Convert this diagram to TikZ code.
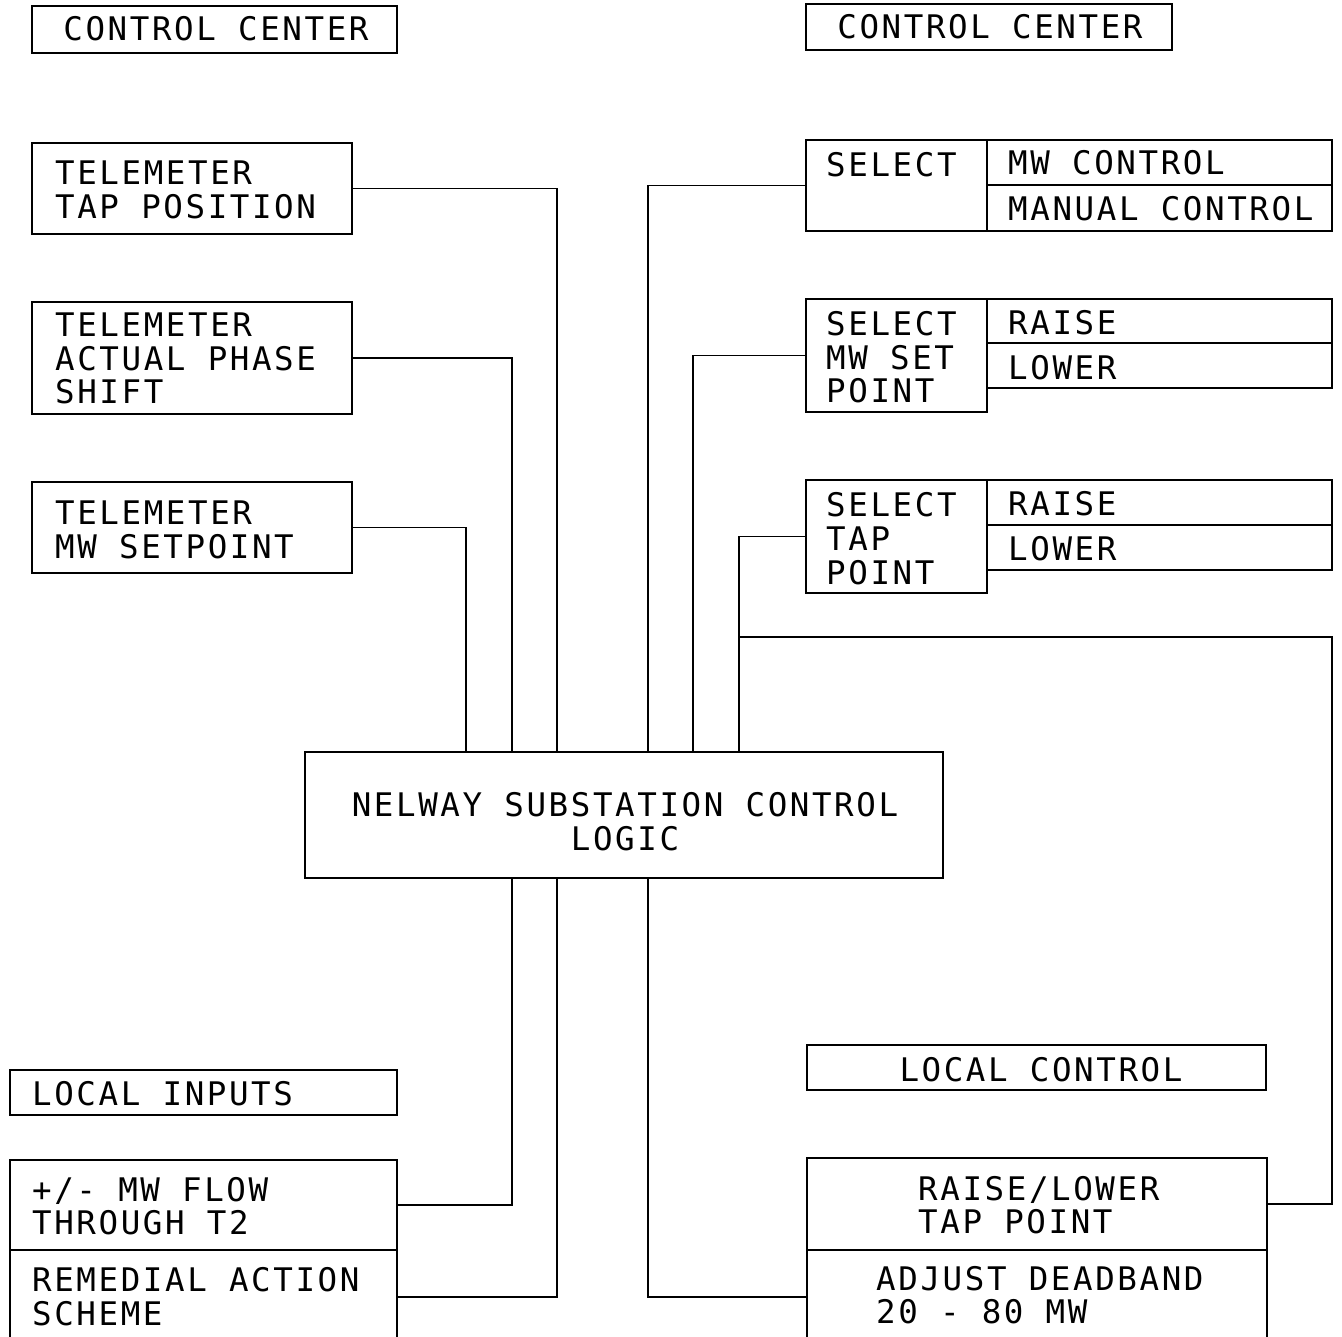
\documentclass[tikz,border=0pt]{standalone}
\usepackage{fontspec}
\newfontfamily\cadfont[LetterSpace=8]{DejaVu Sans Mono}
\usetikzlibrary{calc}
\begin{document}
\begin{tikzpicture}[x=1pt,y=-1pt,
  box/.style={draw, line width=1.5pt, inner sep=0pt, outer sep=0pt, anchor=north west},
  lbl/.style={font=\cadfont\fontsize{32.5}{34}\selectfont, inner sep=0pt, anchor=base west},
  clbl/.style={lbl, anchor=base},
  conn/.style={draw, line width=1.5pt}]
\useasboundingbox (0,0) rectangle (1342,1337);
% boxes
\node[box, minimum width=365pt, minimum height=47pt] (cc1) at (32,6) {};
\node[box, minimum width=366pt, minimum height=46pt] (cc2) at (806,4) {};
\node[box, minimum width=320pt, minimum height=91pt] (t1) at (32,143) {};
\node[box, minimum width=320pt, minimum height=112pt] (t2) at (32,302) {};
\node[box, minimum width=320pt, minimum height=91pt] (t3) at (32,482) {};
\node[box, minimum width=181pt, minimum height=91pt] (s1) at (806,140) {};
\node[box, minimum width=345pt, minimum height=45pt] (s1a) at (987,140) {};
\node[box, minimum width=345pt, minimum height=46pt] (s1b) at (987,185) {};
\node[box, minimum width=181pt, minimum height=113pt] (s2) at (806,299) {};
\node[box, minimum width=345pt, minimum height=44pt] (s2a) at (987,299) {};
\node[box, minimum width=345pt, minimum height=45pt] (s2b) at (987,343) {};
\node[box, minimum width=181pt, minimum height=113pt] (s3) at (806,480) {};
\node[box, minimum width=345pt, minimum height=45pt] (s3a) at (987,480) {};
\node[box, minimum width=345pt, minimum height=45pt] (s3b) at (987,525) {};
\node[box, minimum width=638pt, minimum height=126pt] (logic) at (305,752) {};
\node[box, minimum width=387pt, minimum height=45pt] (li) at (10,1070) {};
\node[box, minimum width=387pt, minimum height=90pt] (f1) at (10,1160) {};
\node[box, minimum width=387pt, minimum height=94pt] (f2) at (10,1250) {};
\node[box, minimum width=459pt, minimum height=45pt] (lc) at (807,1045) {};
\node[box, minimum width=460pt, minimum height=92pt] (rl) at (807,1158) {};
\node[box, minimum width=460pt, minimum height=94pt] (adj) at (807,1250) {};
% texts
\node[clbl] (cc1l) at (216,41) {CONTROL CENTER};
\node[clbl] (cc2l) at (990,39) {CONTROL CENTER};
\node[lbl] (t1l1) at (55,185) {TELEMETER};
\node[lbl] (t1l2) at (55,219) {TAP POSITION};
\node[lbl] (t2l1) at (55,337) {TELEMETER};
\node[lbl] (t2l2) at (55,371) {ACTUAL PHASE};
\node[lbl] (t2l3) at (55,404) {SHIFT};
\node[lbl] (t3l1) at (55,524) {TELEMETER};
\node[lbl] (t3l2) at (55,558) {MW SETPOINT};
\node[lbl] (s1l) at (826,177) {SELECT};
\node[lbl] (s1al) at (1008,175) {MW CONTROL};
\node[lbl] (s1bl) at (1008,221) {MANUAL CONTROL};
\node[lbl] (s2l1) at (826,336) {SELECT};
\node[lbl] (s2l2) at (826,370) {MW SET};
\node[lbl] (s2l3) at (826,403) {POINT};
\node[lbl] (s2al) at (1008,335) {RAISE};
\node[lbl] (s2bl) at (1008,380) {LOWER};
\node[lbl] (s3l1) at (826,516) {SELECT};
\node[lbl] (s3l2) at (826,550) {TAP};
\node[lbl] (s3l3) at (826,584) {POINT};
\node[lbl] (s3al) at (1008,515) {RAISE};
\node[lbl] (s3bl) at (1008,560) {LOWER};
\node[clbl] (lgl1) at (625,816) {NELWAY SUBSTATION CONTROL};
\node[clbl] (lgl2) at (625,850) {LOGIC};
\node[lbl] (lil) at (32,1105) {LOCAL INPUTS};
\node[clbl] (lcl) at (1041,1081) {LOCAL CONTROL};
\node[lbl] (f1l1) at (32,1201) {+/- MW FLOW};
\node[lbl] (f1l2) at (32,1234) {THROUGH T2};
\node[lbl] (f2l1) at (32,1291) {REMEDIAL ACTION};
\node[lbl] (f2l2) at (32,1325) {SCHEME};
\node[lbl] (rll1) at (918,1200) {RAISE/LOWER};
\node[lbl] (rll2) at (918,1233) {TAP POINT};
\node[lbl] (adl1) at (876,1290) {ADJUST DEADBAND};
\node[lbl] (adl2) at (876,1323) {20 - 80 MW};
% connectors
\coordinate (rc) at (1332,637);
\draw[conn] (t1.east) -| ($(logic.north west)+(252,0)$);
\draw[conn] (t2.east) -| ($(logic.north west)+(207,0)$);
\draw[conn] (t3.east) -| ($(logic.north west)+(161,0)$);
\draw[conn] (s1.west) -| ($(logic.north west)+(343,0)$);
\draw[conn] (s2.west) -| ($(logic.north west)+(388,0)$);
\draw[conn] (s3.west) -| ($(logic.north west)+(434,0)$);
\draw[conn] (rl.east) -| (rc) -| ($(logic.north west)+(434,0)$);
\draw[conn] (f1.east) -| ($(logic.south west)+(207,0)$);
\draw[conn] (f2.east) -| ($(logic.south west)+(252,0)$);
\draw[conn] (adj.west) -| ($(logic.south west)+(343,0)$);
\end{tikzpicture}
\end{document}
